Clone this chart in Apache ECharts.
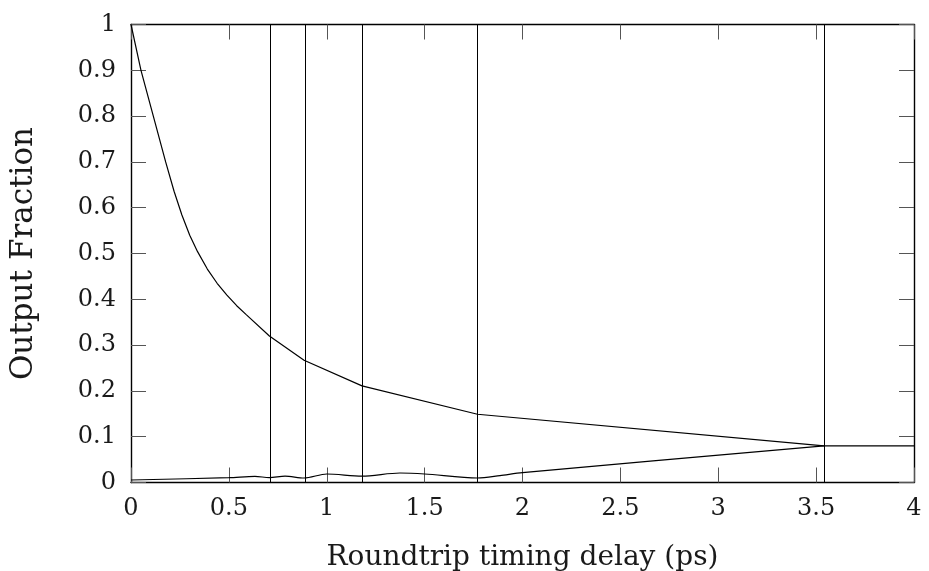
<!DOCTYPE html>
<html>
<head>
<meta charset="utf-8">
<script src="https://cdn.jsdelivr.net/npm/echarts@6/dist/echarts.min.js"></script>
<style>
html,body{margin:0;padding:0;background:#fff;}
#c{width:929px;height:571px;}
</style>
</head>
<body>
<div id="c"></div>
<script>
// Data
const upperX = [0, 0.051, 0.114, 0.177, 0.22, 0.26, 0.30, 0.34, 0.39, 0.44, 0.49, 0.54, 0.59, 0.707, 0.884, 1.18, 1.77, 3.54, 4];
const upperY = [1, 0.9, 0.8, 0.7, 0.636, 0.584, 0.54, 0.504, 0.466, 0.435, 0.409, 0.386, 0.366, 0.32, 0.267, 0.211, 0.149, 0.08, 0.08];
const lowerX = [0, 0.5, 0.633, 0.707, 0.787, 0.884, 1.0, 1.18, 1.374, 1.5, 1.77, 1.885, 2.0, 3.54];
const lowerY = [0.0055, 0.0105, 0.0135, 0.0105, 0.014, 0.0098, 0.0186, 0.014, 0.0207, 0.0186, 0.0098, 0.015, 0.0214, 0.08];
const vlines = [0.707, 0.885, 1.18, 1.77, 3.54];
const xTicks = [0, 0.5, 1, 1.5, 2, 2.5, 3, 3.5, 4];
const yTicks = [0, 0.1, 0.2, 0.3, 0.4, 0.5, 0.6, 0.7, 0.8, 0.9, 1];

const FONT = "'DejaVu Serif', 'Liberation Serif', serif";
const pair = (xs, ys) => xs.map((x, i) => [x, ys[i]]);

const tickStyle = {show: true, inside: true, length: 15, lineStyle: {color: '#555', width: 1}};
const lineAx = {show: true, onZero: false, lineStyle: {color: '#000', width: 1.4}};

const chart = echarts.init(document.getElementById('c'), null, {renderer: 'canvas'});
chart.setOption({
  animation: false,
  backgroundColor: '#fff',
  grid: {left: 131, right: 15, top: 24.5, bottom: 88.5, containLabel: false, outerBoundsMode: 'none'},
  xAxis: [
    {
      type: 'value', min: xTicks[0], max: xTicks[xTicks.length - 1], interval: 0.5,
      position: 'bottom',
      name: 'Roundtrip timing delay (ps)', nameLocation: 'middle', nameGap: 61,
      nameTextStyle: {fontFamily: FONT, fontSize: 28, color: '#1a1a1a'},
      axisLine: lineAx, axisTick: tickStyle, splitLine: {show: false},
      axisLabel: {fontFamily: FONT, fontSize: 24, color: '#1a1a1a', margin: 14,
        formatter: v => String(v)}
    },
    {
      type: 'value', min: xTicks[0], max: xTicks[xTicks.length - 1], interval: 0.5,
      position: 'top',
      axisLine: lineAx, axisTick: tickStyle, splitLine: {show: false},
      axisLabel: {show: false}
    }
  ],
  yAxis: [
    {
      type: 'value', min: yTicks[0], max: yTicks[yTicks.length - 1], interval: 0.1,
      position: 'left',
      name: 'Output Fraction', nameLocation: 'middle', nameGap: 92, nameRotate: 90,
      nameTextStyle: {fontFamily: FONT, fontSize: 31, color: '#1a1a1a'},
      axisLine: lineAx, axisTick: tickStyle, splitLine: {show: false},
      axisLabel: {fontFamily: FONT, fontSize: 24, color: '#1a1a1a', margin: 15,
        formatter: v => String(Math.round(v * 10) / 10)}
    },
    {
      type: 'value', min: yTicks[0], max: yTicks[yTicks.length - 1], interval: 0.1,
      position: 'right',
      axisLine: lineAx, axisTick: tickStyle, splitLine: {show: false},
      axisLabel: {show: false}
    }
  ],
  series: [
    {
      type: 'line', data: pair(upperX, upperY), showSymbol: false, symbol: 'none',
      lineStyle: {color: '#000', width: 1.2}, z: 3
    },
    {
      type: 'line', data: pair(lowerX, lowerY), showSymbol: false, symbol: 'none',
      smooth: 0.3,
      lineStyle: {color: '#000', width: 1.2}, z: 3
    },
    {
      type: 'line', data: [], symbol: 'none',
      markLine: {
        silent: true, symbol: ['none', 'none'], animation: false,
        label: {show: false},
        lineStyle: {color: '#000', width: 1, type: 'solid'},
        data: vlines.map(v => ({xAxis: v}))
      }
    }
  ]
});
</script>
</body>
</html>
